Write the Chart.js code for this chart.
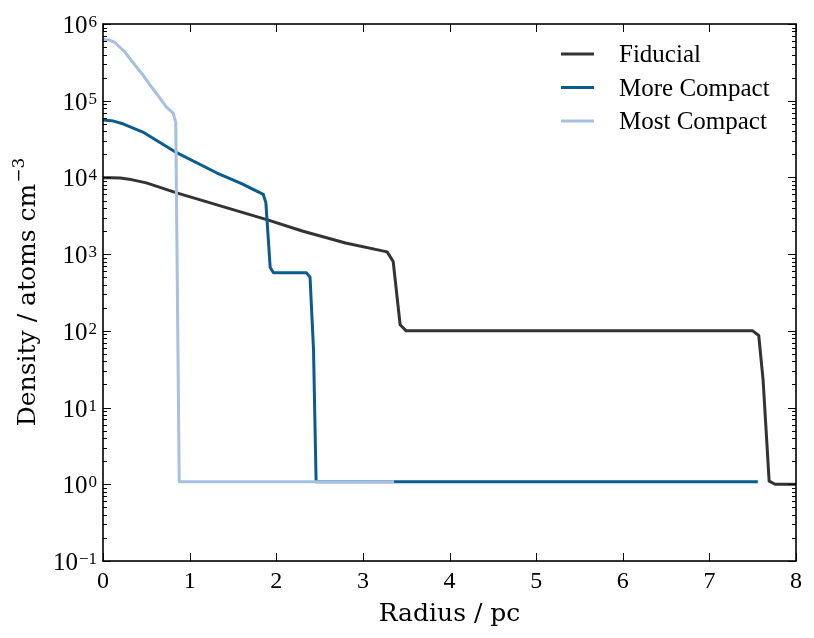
<!DOCTYPE html>
<html>
<head>
<meta charset="utf-8">
<script src="https://cdn.jsdelivr.net/npm/chart.js@4.4.1/dist/chart.umd.min.js"></script>
<style>
  html, body { margin: 0; padding: 0; background: #fff; }
  canvas { display: block; }
</style>
</head>
<body>
<canvas id="chart" width="814" height="638"></canvas>
<script>
// data (radius in pc, density in atoms cm^-3)
const fiducialR = [0, 0.1, 0.2, 0.3, 0.5, 0.85, 1.2, 1.5, 1.9, 2.3, 2.8, 3.28, 3.35, 3.43, 3.5, 7.5, 7.57, 7.62, 7.69, 7.76, 8];
const fiducialD = [9900, 9900, 9800, 9500, 8500, 6300, 4800, 3800, 2800, 2000, 1400, 1070, 800, 120, 100, 100, 87, 23, 1.1, 1.0, 1.0];

const moreR = [0, 0.1, 0.23, 0.46, 0.85, 1.31, 1.6, 1.85, 1.88, 1.93, 1.97, 2.35, 2.39, 2.43, 2.46, 7.56];
const moreD = [56000, 55000, 50000, 39000, 21000, 11500, 8300, 6000, 4700, 670, 570, 570, 500, 58, 1.08, 1.08];

const mostR = [0, 0.07, 0.14, 0.25, 0.35, 0.45, 0.54, 0.64, 0.73, 0.81, 0.84, 0.88, 3.36];
const mostD = [630000, 620000, 570000, 435000, 310000, 225000, 162000, 115000, 83000, 69000, 52000, 1.08, 1.08];

const seriesLabels = ["Fiducial", "More Compact", "Most Compact"];
const seriesColors = ["#333333", "#0a5b8e", "#a5c0e0"];

const xTicks = [0, 1, 2, 3, 4, 5, 6, 7, 8];
const yTickExps = [-1, 0, 1, 2, 3, 4, 5, 6];

const xTitle = "Radius / pc";
const yTitle = "Density / atoms cm";
const yTitleSup = "\u22123";

const FONT = '"Liberation Serif", "DejaVu Serif", serif';
const TITLE_FONT = '"DejaVu Serif", "Liberation Serif", serif';

function toPoints(rs, ds) {
  return rs.map((r, i) => ({ x: r, y: ds[i] }));
}

function supText(exp) {
  return exp < 0 ? "\u2212" + Math.abs(exp) : String(exp);
}

// frame, inward ticks, labels and legend
const decorPlugin = {
  id: "decor",
  afterDraw(chart) {
    const ctx = chart.ctx;
    const area = chart.chartArea;
    const xs = chart.scales.x;
    const ys = chart.scales.y;
    ctx.save();

    ctx.strokeStyle = "#000";
    ctx.lineWidth = 1;
    // x ticks top + bottom
    xTicks.forEach(v => {
      const px = Math.round(xs.getPixelForValue(v)) + 0.5;
      ctx.beginPath();
      ctx.moveTo(px, area.bottom); ctx.lineTo(px, area.bottom - 8);
      ctx.moveTo(px, area.top); ctx.lineTo(px, area.top + 8);
      ctx.stroke();
    });
    // y ticks left + right, major and minor
    yTickExps.forEach(e => {
      for (let m = 1; m <= 9; m++) {
        const v = m * Math.pow(10, e);
        if (v > 1e6) break;
        const py = Math.round(ys.getPixelForValue(v)) + 0.5;
        const len = m === 1 ? 8 : 4;
        ctx.beginPath();
        ctx.moveTo(area.left, py); ctx.lineTo(area.left + len, py);
        ctx.moveTo(area.right, py); ctx.lineTo(area.right - len, py);
        ctx.stroke();
      }
    });

    // frame
    ctx.lineWidth = 1.6;
    ctx.strokeRect(area.left, area.top, area.right - area.left, area.bottom - area.top);

    // x tick labels
    ctx.fillStyle = "#000";
    ctx.font = "24px " + FONT;
    ctx.textAlign = "center";
    ctx.textBaseline = "alphabetic";
    xTicks.forEach(v => {
      ctx.fillText(String(v), xs.getPixelForValue(v), area.bottom + 27);
    });

    // y tick labels 10^n
    yTickExps.forEach(e => {
      const py = ys.getPixelForValue(Math.pow(10, e));
      const right = area.left - 6;
      ctx.font = "17px " + FONT;
      ctx.textAlign = "right";
      const s = supText(e);
      const sw = ctx.measureText(s).width;
      ctx.fillText(s, right, py + 3);
      ctx.font = "25px " + FONT;
      ctx.fillText("10", right - sw - 1, py + 9);
    });

    // x title
    ctx.font = "25px " + TITLE_FONT;
    ctx.textAlign = "center";
    ctx.fillText(xTitle, (area.left + area.right) / 2, area.bottom + 60);

    // y title, rotated
    ctx.save();
    ctx.translate(35, (area.top + area.bottom) / 2);
    ctx.rotate(-Math.PI / 2);
    ctx.font = "25px " + TITLE_FONT;
    const w = ctx.measureText(yTitle).width;
    ctx.font = "17px " + TITLE_FONT;
    const ws = ctx.measureText(yTitleSup).width;
    const start = -(w + ws) / 2;
    ctx.textAlign = "left";
    ctx.font = "25px " + TITLE_FONT;
    ctx.fillText(yTitle, start, 0);
    ctx.font = "17px " + TITLE_FONT;
    ctx.fillText(yTitleSup, start + w + 1, -11);
    ctx.restore();

    // legend
    ctx.font = "25px " + FONT;
    ctx.textAlign = "left";
    seriesLabels.forEach((lab, i) => {
      const y = area.top + 30 + i * 33.5;
      ctx.strokeStyle = seriesColors[i];
      ctx.lineWidth = 3;
      ctx.beginPath();
      ctx.moveTo(561, y); ctx.lineTo(594, y);
      ctx.stroke();
      ctx.fillStyle = "#000";
      ctx.fillText(lab, 619, y + 8);
    });

    ctx.restore();
  }
};

new Chart(document.getElementById("chart"), {
  type: "line",
  data: {
    datasets: [
      { label: seriesLabels[0], data: toPoints(fiducialR, fiducialD), borderColor: seriesColors[0], order: 3 },
      { label: seriesLabels[1], data: toPoints(moreR, moreD), borderColor: seriesColors[1], order: 2 },
      { label: seriesLabels[2], data: toPoints(mostR, mostD), borderColor: seriesColors[2], order: 1 }
    ]
  },
  options: {
    responsive: false,
    animation: false,
    devicePixelRatio: 1,
    layout: { padding: { left: 103, top: 24, right: 18, bottom: 77 } },
    elements: {
      line: { borderWidth: 3, tension: 0, fill: false, borderJoinStyle: "round", borderCapStyle: "butt" },
      point: { radius: 0, hoverRadius: 0 }
    },
    scales: {
      x: { type: "linear", min: 0, max: 8, display: false },
      y: { type: "logarithmic", min: 0.1, max: 1e6, display: false }
    },
    plugins: {
      legend: { display: false },
      tooltip: { enabled: false }
    }
  },
  plugins: [decorPlugin]
});
</script>
</body>
</html>
